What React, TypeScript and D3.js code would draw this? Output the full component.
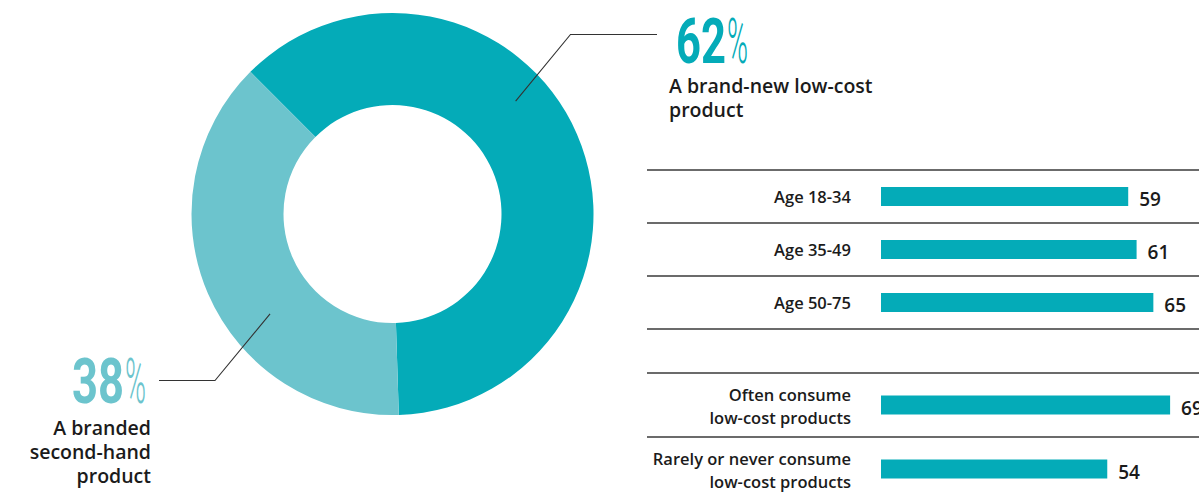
import React from "react";
import * as d3 from "d3";

const shareLabels = ["A brand-new low-cost product", "A branded second-hand product"];
const shareValues = [62, 38];
const shareColors = ["#04abb8", "#6cc4cd"];

const ageCategories = ["Age 18-34", "Age 35-49", "Age 50-75"];
const ageValues = [59, 61, 65];

const consumeCategories = [
  ["Often consume", "low-cost products"],
  ["Rarely or never consume", "low-cost products"],
];
const consumeValues = [69, 54];

const W = 1199;
const H = 498;
const FONT = "'Open Sans', 'Noto Sans', sans-serif";
const TEXT = "#1b1b1b";
const RULE = "#3a3a3a";

function BigNumber({ x, y, value, color, digitsWidth }: { x: number; y: number; value: number; color: string; digitsWidth: number }) {
  return (
    <text x={x} y={y} fontSize={63} fill={color} fontFamily="Roboto, sans-serif" lengthAdjust="spacingAndGlyphs">
      <tspan fontWeight={700} textLength={digitsWidth} lengthAdjust="spacingAndGlyphs">{value}</tspan>
      <tspan fontWeight={300} dx={1} textLength={21} lengthAdjust="spacingAndGlyphs">%</tspan>
    </text>
  );
}

export default function App() {
  const cx = 392.5;
  const cy = 214;
  const rOuter = 201;
  const rInner = 109;

  const pie = d3
    .pie<number>()
    .sort(null)
    .value((d) => d)
    .startAngle(-Math.PI / 4)
    .endAngle(-Math.PI / 4 + 2 * Math.PI);
  const arcs = pie(shareValues);
  const arc = d3.arc<d3.PieArcDatum<number>>().innerRadius(rInner).outerRadius(rOuter);

  const polar = (deg: number, r: number) => {
    const a = (deg * Math.PI) / 180;
    return [cx + r * Math.sin(a), cy - r * Math.cos(a)];
  };
  const p1 = polar(47.5, 167);
  const p2 = polar(230.8, 158);
  const leader1 = d3.line()([p1 as [number, number], [570.5, 34.5], [657, 34.5]]);
  const leader2 = d3.line()([p2 as [number, number], [215, 380.5], [159, 380.5]]);

  // bars
  const x0 = 881;
  const x = d3.scaleLinear().domain([0, 100]).range([x0, x0 + 419]);
  const ageBand = d3.scaleBand<string>().domain(ageCategories).range([170, 329]);
  const consBand = d3
    .scaleBand<string>()
    .domain(consumeCategories.map((c) => c.join(" ")))
    .range([373, 501]);
  const barH = 19;
  const ruleX1 = 647;
  const ruleX2 = W;
  const labelX = 851;

  const ageRules = [...ageCategories.map((c) => ageBand(c)!), 329];
  const consRules = consumeCategories.map((c) => consBand(c.join(" "))!);

  return (
    <svg
      width={W}
      height={H}
      style={{ position: "absolute", left: 0, top: 0, background: "#fff" }}
      fontFamily={FONT}
    >
      {/* donut */}
      <g transform={`translate(${cx},${cy})`}>
        {arcs.map((a, i) => (
          <path key={i} d={arc(a) || ""} fill={shareColors[i]} />
        ))}
      </g>
      <path d={leader1 || ""} fill="none" stroke="#333" strokeWidth={1.1} />
      <path d={leader2 || ""} fill="none" stroke="#333" strokeWidth={1.1} />

      {/* 62% */}
      <BigNumber x={676} y={63} value={shareValues[0]} color={shareColors[0]} digitsWidth={50} />
      <text x={669} y={93} fontSize={19.5} fontWeight={600} fill={TEXT}>
        <tspan x={669} y={93}>A brand-new low-cost</tspan>
        <tspan x={669} y={117}>product</tspan>
      </text>

      {/* 38% */}
      <BigNumber x={72} y={403} value={shareValues[1]} color={shareColors[1]} digitsWidth={52} />
      <text fontSize={19.5} fontWeight={600} fill={TEXT} textAnchor="end">
        {["A branded", "second-hand", "product"].map((t, i) => (
          <tspan key={t} x={151} y={435 + i * 24}>{t}</tspan>
        ))}
      </text>

      {/* age rules */}
      {ageRules.map((y, i) => (
        <line key={"ar" + i} x1={ruleX1} x2={ruleX2} y1={y} y2={y} stroke={RULE} strokeWidth={1.3} />
      ))}
      {ageCategories.map((c, i) => {
        const yc = ageBand(c)! + ageBand.bandwidth() / 2;
        return (
          <g key={c}>
            <text x={labelX} y={yc + 6} fontSize={16.5} fontWeight={600} fill={TEXT} textAnchor="end">
              {c}
            </text>
            <rect x={x(0)} y={yc - barH / 2} width={x(ageValues[i]) - x(0)} height={barH} fill={shareColors[0]} />
            <text x={x(ageValues[i]) + 11} y={yc + 9.5} fontSize={19} fontWeight={600} fill={TEXT}>
              {ageValues[i]}
            </text>
          </g>
        );
      })}

      {/* consumption rules */}
      {consRules.map((y, i) => (
        <line key={"cr" + i} x1={ruleX1} x2={ruleX2} y1={y} y2={y} stroke={RULE} strokeWidth={1.3} />
      ))}
      {consumeCategories.map((c, i) => {
        const key = c.join(" ");
        const yc = consBand(key)! + consBand.bandwidth() / 2;
        return (
          <g key={key}>
            <text fontSize={16.5} fontWeight={600} fill={TEXT} textAnchor="end">
              <tspan x={labelX} y={yc - 4}>{c[0]}</tspan>
              <tspan x={labelX} y={yc + 19}>{c[1]}</tspan>
            </text>
            <rect x={x(0)} y={yc - barH / 2} width={x(consumeValues[i]) - x(0)} height={barH} fill={shareColors[0]} />
            <text x={x(consumeValues[i]) + 11} y={yc + 9.5} fontSize={19} fontWeight={600} fill={TEXT}>
              {consumeValues[i]}
            </text>
          </g>
        );
      })}
    </svg>
  );
}
